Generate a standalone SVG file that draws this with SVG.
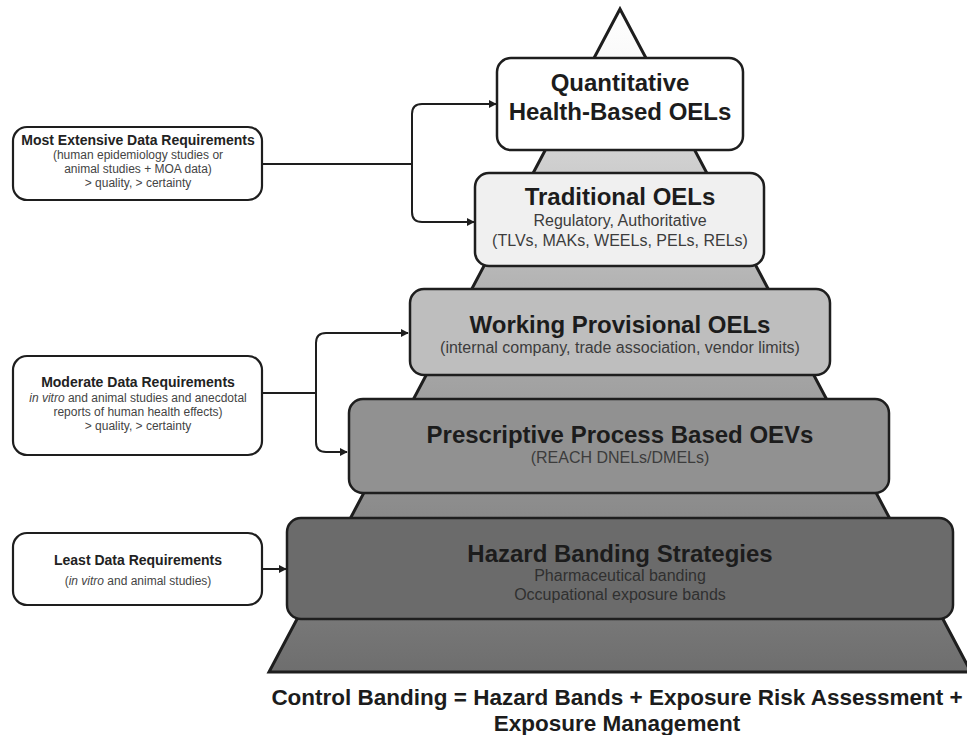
<svg xmlns="http://www.w3.org/2000/svg" width="967" height="735" viewBox="0 0 967 735">
  <defs>
    <linearGradient id="pyrFill" gradientUnits="userSpaceOnUse" x1="0" y1="9" x2="0" y2="672">
      <stop offset="0" stop-color="#ffffff"/>
      <stop offset="0.07" stop-color="#fafafa"/>
      <stop offset="0.2" stop-color="#d4d4d4"/>
      <stop offset="0.41" stop-color="#b4b4b4"/>
      <stop offset="0.57" stop-color="#a2a2a2"/>
      <stop offset="0.75" stop-color="#8c8c8c"/>
      <stop offset="0.9" stop-color="#7a7a7a"/>
      <stop offset="1" stop-color="#6e6e6e"/>
    </linearGradient>
    <marker id="arrow" viewBox="0 0 10 10" refX="9" refY="5" markerWidth="4" markerHeight="4" orient="auto" markerUnits="strokeWidth">
      <path d="M0,0 L10,5 L0,10 z" fill="#1e1e1e"/>
    </marker>
  </defs>
  <style>
    .tier { stroke: #1e1e1e; stroke-width: 2.5; }
    .side { fill: #ffffff; stroke: #1e1e1e; stroke-width: 2.2; }
    .title { font-family: "Liberation Sans", Arial, sans-serif; font-weight: bold; font-size: 24px; fill: #1c1c1c; text-anchor: middle; }
    .sub { font-family: "Liberation Sans", Arial, sans-serif; font-size: 16px; fill: #3c3c3c; text-anchor: middle; }
    .stitle { font-family: "Liberation Sans", Arial, sans-serif; font-weight: bold; font-size: 14px; fill: #222222; text-anchor: middle; }
    .ssub { font-family: "Liberation Sans", Arial, sans-serif; font-size: 12px; fill: #444444; text-anchor: middle; }
    .caption { font-family: "Liberation Sans", Arial, sans-serif; font-weight: bold; font-size: 22.5px; fill: #1c1c1c; text-anchor: middle; }
    .conn { fill: none; stroke: #1e1e1e; stroke-width: 2; }
  </style>

  <rect width="967" height="735" fill="#ffffff"/>

  <!-- pyramid body behind the tiers -->
  <g id="pyramid">
    <polygon points="620,9 269,672 971,672" fill="url(#pyrFill)" stroke="#1e1e1e" stroke-width="3" stroke-linejoin="miter"/>
  </g>

  <!-- tiers, top to bottom -->
  <g id="tier-quantitative">
    <rect class="tier" x="497" y="58" width="246" height="92" rx="14" fill="#ffffff"/>
    <text class="title" x="620" y="91">Quantitative</text>
    <text class="title" x="620" y="120">Health-Based OELs</text>
  </g>

  <g id="tier-traditional">
    <rect class="tier" x="475" y="173" width="289" height="93" rx="14" fill="#f0f0f0"/>
    <text class="title" x="620" y="205">Traditional OELs</text>
    <text class="sub" x="620" y="226">Regulatory, Authoritative</text>
    <text class="sub" x="620" y="246">(TLVs, MAKs, WEELs, PELs, RELs)</text>
  </g>

  <g id="tier-working">
    <rect class="tier" x="410" y="289" width="420" height="86" rx="14" fill="#bebebe"/>
    <text class="title" x="620" y="333">Working Provisional OELs</text>
    <text class="sub" x="620" y="353">(internal company, trade association, vendor limits)</text>
  </g>

  <g id="tier-prescriptive">
    <rect class="tier" x="349" y="399" width="540" height="94" rx="14" fill="#919191"/>
    <text class="title" x="620" y="443">Prescriptive Process Based OEVs</text>
    <text class="sub" x="620" y="463">(REACH DNELs/DMELs)</text>
  </g>

  <g id="tier-hazard">
    <rect class="tier" x="287" y="518" width="666" height="101" rx="14" fill="#6b6b6b"/>
    <text class="title" x="620" y="562">Hazard Banding Strategies</text>
    <text class="sub" x="620" y="581" style="fill:#303030">Pharmaceutical banding</text>
    <text class="sub" x="620" y="600" style="fill:#303030">Occupational exposure bands</text>
  </g>

  <!-- data requirement notes on the left -->
  <g id="req-most">
    <rect class="side" x="13" y="127" width="249" height="73" rx="14"/>
    <text class="stitle" x="138" y="145">Most Extensive Data Requirements</text>
    <text class="ssub" x="138" y="159">(human epidemiology studies or</text>
    <text class="ssub" x="138" y="173">animal studies + MOA data)</text>
    <text class="ssub" x="138" y="187">&gt; quality, &gt; certainty</text>
  </g>

  <g id="req-moderate">
    <rect class="side" x="13" y="356" width="249" height="99" rx="14"/>
    <text class="stitle" x="138" y="387">Moderate Data Requirements</text>
    <text class="ssub" x="138" y="402"><tspan font-style="italic">in vitro</tspan> and animal studies and anecdotal</text>
    <text class="ssub" x="138" y="416">reports of human health effects)</text>
    <text class="ssub" x="138" y="430">&gt; quality, &gt; certainty</text>
  </g>

  <g id="req-least">
    <rect class="side" x="13" y="533" width="249" height="72" rx="14"/>
    <text class="stitle" x="138" y="565">Least Data Requirements</text>
    <text class="ssub" x="138" y="585">(<tspan font-style="italic">in vitro</tspan> and animal studies)</text>
  </g>

  <!-- connectors -->
  <g id="connectors">
    <path class="conn" d="M262,164 H412"/>
    <path class="conn" d="M412,164 V114 Q412,104 422,104 H496" marker-end="url(#arrow)"/>
    <path class="conn" d="M412,164 V212 Q412,222 422,222 H474" marker-end="url(#arrow)"/>
    <path class="conn" d="M262,393 H316"/>
    <path class="conn" d="M316,393 V343 Q316,333 326,333 H408" marker-end="url(#arrow)"/>
    <path class="conn" d="M316,393 V442 Q316,452 326,452 H347" marker-end="url(#arrow)"/>
    <path class="conn" d="M262,569 H286" marker-end="url(#arrow)"/>
  </g>

  <!-- caption -->
  <g id="caption">
    <text class="caption" x="617" y="705">Control Banding = Hazard Bands + Exposure Risk Assessment +</text>
    <text class="caption" x="617" y="731">Exposure Management</text>
  </g>
</svg>
